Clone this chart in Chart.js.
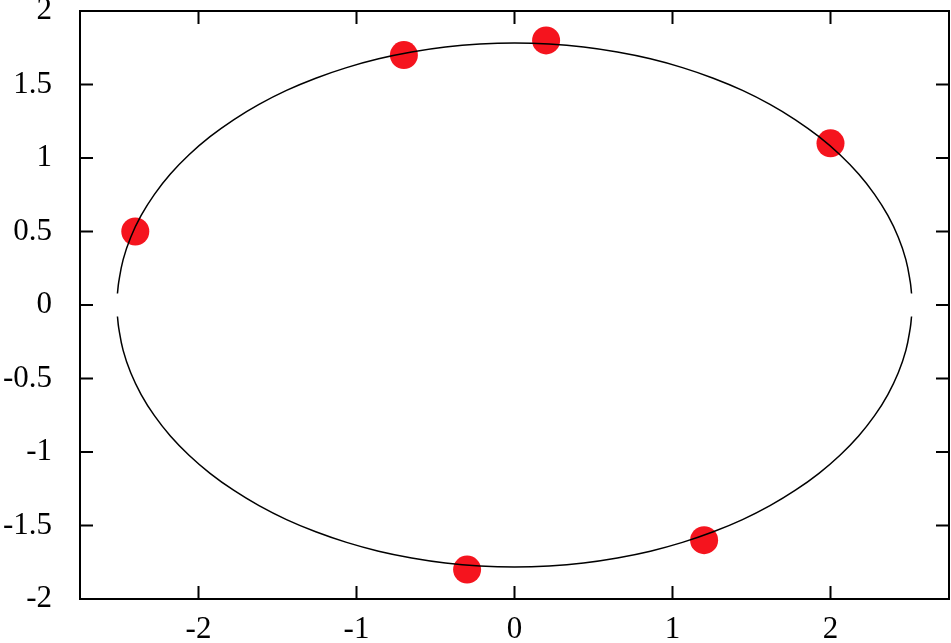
<!DOCTYPE html>
<html>
<head>
<meta charset="utf-8">
<script src="https://cdn.jsdelivr.net/npm/chart.js@4/dist/chart.umd.min.js"></script>
<style>
  html, body { margin: 0; padding: 0; background: #ffffff; }
  #c { display: block; }
</style>
</head>
<body>
<canvas id="c" width="951" height="643"></canvas>
<script>
// Data points (red markers)
const pointX = [-2.4, -0.7, 0.2, 2.0, 1.2, -0.3];
const pointY = [0.5, 1.7, 1.8, 1.1, -1.6, -1.8];

// Fitted curve, upper branch (right to left)
const curveUpperX = [2.513, 2.505, 2.477, 2.429, 2.363, 2.279, 2.178, 2.060, 1.927, 1.778, 1.617, 1.443, 1.258, 1.063, 0.860, 0.651, 0.437, 0.219, 0,
  -0.219, -0.437, -0.651, -0.860, -1.063, -1.258, -1.443, -1.617, -1.778, -1.927, -2.060, -2.178, -2.279, -2.363, -2.429, -2.477, -2.505, -2.513];
const curveUpperY = [0.078, 0.155, 0.309, 0.461, 0.609, 0.753, 0.891, 1.022, 1.145, 1.260, 1.365, 1.460, 1.543, 1.615, 1.675, 1.721, 1.755, 1.775, 1.782,
  1.775, 1.755, 1.721, 1.675, 1.615, 1.543, 1.460, 1.365, 1.260, 1.145, 1.022, 0.891, 0.753, 0.609, 0.461, 0.309, 0.155, 0.078];
// Fitted curve, lower branch (right to left)
const curveLowerX = [2.513, 2.505, 2.477, 2.429, 2.363, 2.279, 2.178, 2.060, 1.927, 1.778, 1.617, 1.443, 1.258, 1.063, 0.860, 0.651, 0.437, 0.219, 0,
  -0.219, -0.437, -0.651, -0.860, -1.063, -1.258, -1.443, -1.617, -1.778, -1.927, -2.060, -2.178, -2.279, -2.363, -2.429, -2.477, -2.505, -2.513];
const curveLowerY = [-0.078, -0.155, -0.309, -0.461, -0.609, -0.753, -0.891, -1.022, -1.145, -1.260, -1.365, -1.460, -1.543, -1.615, -1.675, -1.721, -1.755, -1.775, -1.782,
  -1.775, -1.755, -1.721, -1.675, -1.615, -1.543, -1.460, -1.365, -1.260, -1.145, -1.022, -0.891, -0.753, -0.609, -0.461, -0.309, -0.155, -0.078];

// Axis ranges and tick labels
const xRange = [-2.75, 2.75];
const yRange = [-2, 2];
const xTicks = [-2, -1, 0, 1, 2];
const yTicks = [-2, -1.5, -1, -0.5, 0, 0.5, 1, 1.5, 2];

const toXY = (xs, ys) => xs.map((x, i) => ({ x: x, y: ys[i] }));

const FONT = { family: "'Liberation Serif', 'DejaVu Serif', serif", size: 31 };

const framePlugin = {
  id: 'frame',
  beforeDatasetsDraw(chart) {
    const { ctx, chartArea: a, scales } = chart;
    const tl = 13;
    ctx.save();
    ctx.strokeStyle = '#000';
    ctx.lineWidth = 2;
    ctx.beginPath();
    xTicks.forEach(v => {
      const px = scales.x.getPixelForValue(v);
      ctx.moveTo(px, a.bottom); ctx.lineTo(px, a.bottom - tl);
      ctx.moveTo(px, a.top); ctx.lineTo(px, a.top + tl);
    });
    yTicks.forEach(v => {
      const py = scales.y.getPixelForValue(v);
      ctx.moveTo(a.left, py); ctx.lineTo(a.left + tl, py);
      ctx.moveTo(a.right, py); ctx.lineTo(a.right - tl, py);
    });
    ctx.stroke();
    ctx.strokeRect(a.left, a.top, a.right - a.left, a.bottom - a.top);
    ctx.restore();
  }
};

new Chart(document.getElementById('c'), {
  type: 'scatter',
  data: {
    datasets: [
      {
        data: toXY(curveUpperX, curveUpperY), order: 0,
        showLine: true, tension: 0.4, borderColor: '#000', borderWidth: 1.5,
        pointRadius: 0, fill: false
      },
      {
        data: toXY(curveLowerX, curveLowerY), order: 0,
        showLine: true, tension: 0.4, borderColor: '#000', borderWidth: 1.5,
        pointRadius: 0, fill: false
      },
      {
        data: toXY(pointX, pointY), order: 1,
        showLine: false, pointRadius: 14, pointBorderWidth: 0,
        backgroundColor: '#f5141e', pointBackgroundColor: '#f5141e'
      }
    ]
  },
  options: {
    responsive: false,
    animation: false,
    devicePixelRatio: 1,
    layout: { autoPadding: false, padding: { top: 11, right: 2, left: 0, bottom: 0 } },
    plugins: { legend: { display: false }, tooltip: { enabled: false } },
    scales: {
      x: {
        type: 'linear', min: xRange[0], max: xRange[1],
        grid: { display: false, drawTicks: false },
        border: { display: false },
        afterBuildTicks: s => { s.ticks = xTicks.map(v => ({ value: v })); },
        afterFit: s => { s.height = 44; s.paddingLeft = 0; s.paddingRight = 0; },
        ticks: {
          autoSkip: false, maxRotation: 0, padding: 12, color: '#000', font: FONT,
          callback: v => String(v)
        }
      },
      y: {
        type: 'linear', min: yRange[0], max: yRange[1],
        grid: { display: false, drawTicks: false },
        border: { display: false },
        afterBuildTicks: s => { s.ticks = yTicks.map(v => ({ value: v })); },
        afterFit: s => { s.width = 80; s.paddingTop = 0; s.paddingBottom = 0; },
        ticks: {
          autoSkip: false, padding: 28, color: '#000', font: FONT,
          callback: v => String(v)
        }
      }
    }
  },
  plugins: [framePlugin]
});
</script>
</body>
</html>
